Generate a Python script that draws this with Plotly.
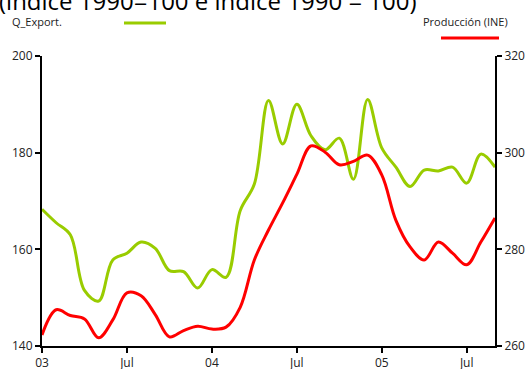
import plotly.graph_objects as go

months = list(range(33))
tick_vals = [0, 6, 12, 18, 24, 30]
tick_text = ["03", "Jul", "04", "Jul", "05", "Jul"]

q_export = [168.3, 165.5, 163.0, 151.5, 149.3, 157.8, 159.2, 161.5, 160.2, 155.6,
            155.4, 152.0, 155.8, 154.2, 168.0, 173.5, 190.8, 181.8, 190.0, 183.5,
            180.6, 183.0, 174.5, 191.0, 181.0, 177.0, 173.0, 176.4, 176.2, 177.0,
            173.7, 179.7, 177.0]
produccion = [262.3, 267.5, 266.3, 265.6, 261.7, 265.4, 271.0, 270.4, 266.5, 261.9,
              263.2, 264.1, 263.5, 263.9, 268.0, 277.8, 284.0, 289.6, 295.5, 301.4,
              300.1, 297.5, 298.2, 299.5, 295.4, 286.0, 280.5, 277.8, 281.5, 279.2,
              276.8, 281.5, 286.5]

GREEN = "#99cc00"
RED = "#ff0000"
FONT = "Open Sans"

W, H = 527, 369
L, R, T, B = 42, 32, 56, 23
PW, PH = W - L - R, H - T - B

def px(x):
    return (x - L) / PW

def py(y):
    return (H - B - y) / PH

fig = go.Figure()
fig.add_trace(go.Scatter(x=months, y=q_export, mode="lines", name="Q_Export.",
                         line=dict(color=GREEN, width=3, shape="spline", smoothing=1.0),
                         yaxis="y"))
fig.add_trace(go.Scatter(x=months, y=produccion, mode="lines", name="Producción (INE)",
                         line=dict(color=RED, width=3, shape="spline", smoothing=1.0),
                         yaxis="y2"))

axis_common = dict(showgrid=False, zeroline=False, showline=True, linecolor="black",
                   linewidth=2, ticks="outside", ticklen=5, tickwidth=1.5, tickcolor="black",
                   automargin=False,
                   tickfont=dict(family=FONT, size=12, color="#222"))

fig.update_layout(
    template="none",
    width=W, height=H,
    margin=dict(l=L, r=R, t=T, b=B, autoexpand=False),
    paper_bgcolor="white", plot_bgcolor="white",
    showlegend=False,
    xaxis=dict(range=[0, 32], tickvals=tick_vals, ticktext=tick_text, **axis_common),
    yaxis=dict(range=[140, 200], tickvals=[140, 160, 180, 200], **axis_common),
    yaxis2=dict(range=[260, 320], tickvals=[260, 280, 300, 320], overlaying="y", side="right",
                **axis_common),
    font=dict(family=FONT),
)

# cut-off title at top
fig.add_annotation(text="(índice 1990=100 e índice 1990 = 100)", xref="paper", yref="paper",
                   x=px(-3), y=py(19), xanchor="left", yanchor="bottom", showarrow=False,
                   font=dict(family=FONT, size=24, color="black"))
# legend texts
fig.add_annotation(text="Q_Export.", xref="paper", yref="paper", x=px(10), y=py(21),
                   xanchor="left", yanchor="middle", showarrow=False,
                   font=dict(family=FONT, size=11, color="#222"))
fig.add_annotation(text="Producción (INE)", xref="paper", yref="paper", x=px(510), y=py(21),
                   xanchor="right", yanchor="middle", showarrow=False,
                   font=dict(family=FONT, size=11, color="#222"))
fig.add_shape(type="line", xref="paper", yref="paper", x0=px(124), x1=px(166), y0=py(23), y1=py(23),
              line=dict(color=GREEN, width=3))
fig.add_shape(type="line", xref="paper", yref="paper", x0=px(441), x1=px(499), y0=py(38), y1=py(38),
              line=dict(color=RED, width=3))

fig.write_html("out.html")
